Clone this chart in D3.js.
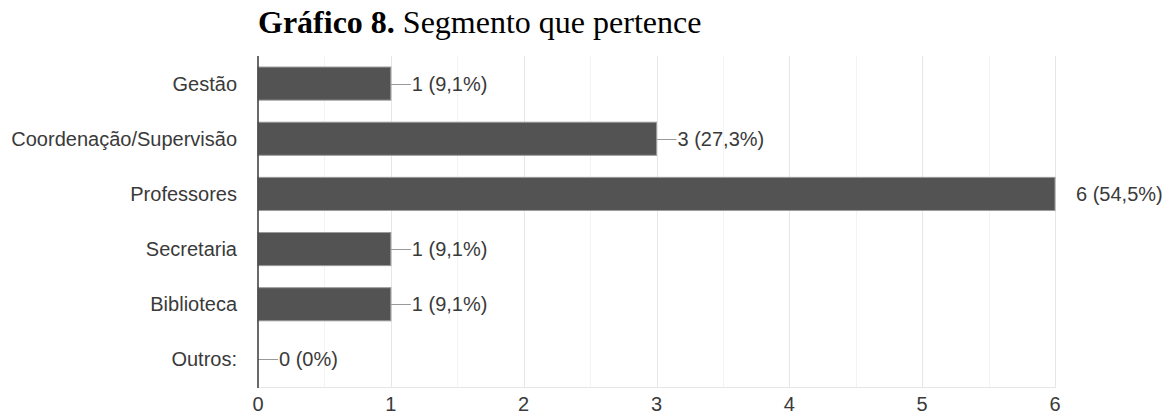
<!DOCTYPE html>
<html>
<head>
<meta charset="utf-8">
<script src="https://cdn.jsdelivr.net/npm/d3@7"></script>
<style>
  body { margin: 0; background: #fff; }
  #chart { width: 1165px; height: 416px; }
  .cat, .tick-label, .val { font-family: "Liberation Sans", Arial, sans-serif; font-size: 20px; fill: #3a3a3a; }
  .title { font-family: "Liberation Serif", "Times New Roman", serif; font-size: 32px; fill: #000; }
</style>
</head>
<body>
<div id="chart"></div>
<script>
var categories = ["Gestão", "Coordenação/Supervisão", "Professores", "Secretaria", "Biblioteca", "Outros:"];
var values = [1, 3, 6, 1, 1, 0];
var percents = ["9,1%", "27,3%", "54,5%", "9,1%", "9,1%", "0%"];
var xTicks = [0, 1, 2, 3, 4, 5, 6];

var width = 1165, height = 416;
var plotLeft = 258, plotRight = 1055, plotTop = 56, plotBottom = 387;

var svg = d3.select("#chart").append("svg")
    .attr("width", width)
    .attr("height", height);

var xScale = d3.scaleLinear().domain([0, 6]).range([plotLeft, plotRight]);
var yScale = d3.scaleBand().domain(categories).range([plotTop, plotBottom]).paddingInner(0.4).paddingOuter(0.2);

// title
var title = svg.append("text")
    .attr("class", "title")
    .attr("x", plotLeft)
    .attr("y", 33);
title.append("tspan").attr("font-weight", "bold").text("Gráfico 8.");
title.append("tspan").text(" Segmento que pertence");

// minor grid
svg.selectAll("line.minor")
    .data(d3.range(0.5, 6, 1))
    .enter()
    .append("line")
    .attr("x1", d => Math.round(xScale(d)) + 0.5).attr("x2", d => Math.round(xScale(d)) + 0.5)
    .attr("y1", plotTop).attr("y2", plotBottom)
    .attr("stroke", "#f3f3f3").attr("stroke-width", 1);

// major grid
svg.selectAll("line.major")
    .data(xTicks.slice(1))
    .enter()
    .append("line")
    .attr("x1", d => Math.round(xScale(d)) + 0.5).attr("x2", d => Math.round(xScale(d)) + 0.5)
    .attr("y1", plotTop).attr("y2", plotBottom)
    .attr("stroke", "#e6e6e6").attr("stroke-width", 1);

svg.append("line")
    .attr("x1", plotLeft).attr("x2", plotRight + 1)
    .attr("y1", plotBottom + 0.5).attr("y2", plotBottom + 0.5)
    .attr("stroke", "#e6e6e6");

// bars
var rows = categories.map((c, i) => ({ cat: c, v: values[i], p: percents[i] }));

svg.selectAll("rect.bar")
    .data(rows.filter(d => d.v > 0))
    .enter()
    .append("rect")
    .attr("x", xScale(0))
    .attr("y", d => yScale(d.cat))
    .attr("width", d => xScale(d.v) - xScale(0))
    .attr("height", yScale.bandwidth())
    .attr("fill", "#535353")
    .attr("stroke", "#9a9a9a")
    .attr("stroke-width", 1);

// leader lines and value labels
rows.forEach(function(d) {
    var cy = yScale(d.cat) + yScale.bandwidth() / 2;
    var x0 = xScale(d.v);
    var gap = 21;
    if (d.v < 6) {
        svg.append("line")
            .attr("x1", x0).attr("x2", x0 + gap - 1)
            .attr("y1", Math.round(cy) + 0.5).attr("y2", Math.round(cy) + 0.5)
            .attr("stroke", "#999");
    }
    svg.append("text")
        .attr("class", "val")
        .attr("x", x0 + gap)
        .attr("y", cy)
        .attr("dy", "0.35em")
        .text(d.v + " (" + d.p + ")");
});

// y axis line
svg.append("line")
    .attr("x1", plotLeft).attr("x2", plotLeft)
    .attr("y1", plotTop).attr("y2", plotBottom + 1)
    .attr("stroke", "#444").attr("stroke-width", 1.6);

// category labels
svg.selectAll("text.cat")
    .data(categories)
    .enter()
    .append("text")
    .attr("class", "cat")
    .attr("x", 237)
    .attr("y", d => yScale(d) + yScale.bandwidth() / 2)
    .attr("dy", "0.35em")
    .attr("text-anchor", "end")
    .text(d => d);

// x tick labels
svg.selectAll("text.tick-label")
    .data(xTicks)
    .enter()
    .append("text")
    .attr("class", "tick-label")
    .attr("x", d => xScale(d))
    .attr("y", 411)
    .attr("text-anchor", "middle")
    .text(d => d);
</script>
</body>
</html>
